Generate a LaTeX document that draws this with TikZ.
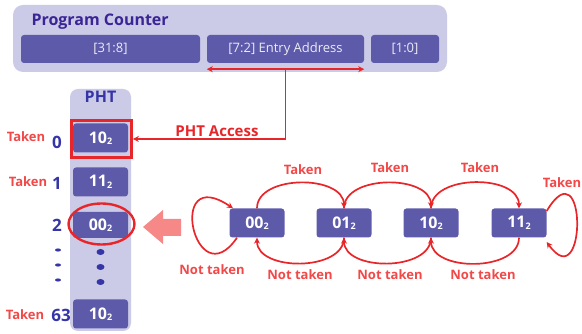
\documentclass[tikz,border=0pt]{standalone}
\usepackage{fontspec}
\setmainfont{Open Sans}
\usetikzlibrary{arrows.meta,shapes.geometric}
\definecolor{boxblue}{HTML}{5D5AAA}
\definecolor{panel}{HTML}{CBCBE7}
\definecolor{titlepurple}{HTML}{3A2496}
\definecolor{idxblue}{HTML}{3535A8}
\definecolor{arcred}{HTML}{E8262A}
\definecolor{lblred}{HTML}{F24848}
\definecolor{bigarrow}{HTML}{F68888}
\newcommand\basetwo[1]{#1\raisebox{-1.5pt}{\fontsize{9}{9}\selectfont 2}}
\begin{document}
\begin{tikzpicture}[x=1pt,y=1pt,
    reg/.style={fill=boxblue,rounded corners=3pt,text=white!88!boxblue,font=\fontsize{13}{13}\selectfont,minimum height=28pt,inner sep=0pt},
    entry/.style={fill=boxblue,rounded corners=3pt,text=white,font=\bfseries\fontsize{16}{16}\selectfont,minimum width=55pt,minimum height=29pt,inner sep=0pt},
    lbl/.style={text=lblred,font=\bfseries\fontsize{13}{13}\selectfont,inner sep=1pt},
    idx/.style={text=idxblue,font=\bfseries\fontsize{17}{17}\selectfont,inner sep=0pt},
    arc/.style={arcred,line width=1.7pt,-{Stealth[length=6pt,width=6pt]}}]
  \useasboundingbox (0,0) rectangle (582,334);
  % program counter
  \fill[panel,rounded corners=10pt] (13,262) rectangle (447,329);
  \node[anchor=west,text=titlepurple,font=\bfseries\fontsize{16}{16}\selectfont] (title) at (28,312) {Program Counter};
  \node[reg,minimum width=179pt] (hi) at (110.5,285) {[31:8]};
  \node[reg,minimum width=157pt] (mid) at (285.5,285) {[7:2] Entry Address};
  \node[reg,minimum width=68pt] (lo) at (405,285) {[1:0]};
  % PHT column
  \fill[panel,rounded corners=8pt] (70,3) rectangle (131,245);
  \node[text=idxblue,font=\bfseries\fontsize{16}{16}\selectfont] (pht) at (100.5,237) {PHT};
  \node[entry] (e0) at (100.5,196) {\basetwo{10}};
  \node[entry] (e1) at (100.5,152) {\basetwo{11}};
  \node[entry,minimum height=26pt] (e2) at (100.5,109) {\basetwo{00}};
  \node[entry] (e3) at (100.5,20) {\basetwo{10}};
  \node[draw=arcred,line width=2.6pt,minimum width=60pt,minimum height=37pt] (hit) at (101.5,195) {};
  \node[ellipse,draw=arcred,line width=2.4pt,minimum width=66pt,minimum height=41pt] (ring) at (101.5,110) {};
  \foreach \y in {82,67,52} {
    \fill[idxblue] (100.5,\y) ellipse (4pt and 3pt);
    \fill[idxblue] (58,\y+2) ellipse (3pt and 1.6pt);
  }
  \node[idx] (i0) at (57,192) {0};
  \node[idx] (i1) at (57,151) {1};
  \node[idx] (i2) at (57,109) {2};
  \node[idx] (i3) at (61,19) {63};
  \node[lbl] (t0) at (26,197) {Taken};
  \node[lbl] (t1) at (28,152) {Taken};
  \node[lbl] (t3) at (25,19) {Taken};
  % index from the address
  \coordinate (split) at ([yshift=-6pt]mid.south);
  \draw[arcred,line width=1.7pt,{Stealth[length=6pt,width=6pt]}-{Stealth[length=6pt,width=6pt]}]
    ([yshift=-6pt]mid.south west) -- ([yshift=-6pt]mid.south east);
  \draw[arc] (split) |- (hit.east);
  \node[text=arcred,font=\bfseries\fontsize{15}{15}\selectfont] (access) at (217,203) {PHT Access};
  % big arrow
  \fill[bigarrow] (143,107) -- (163,124) -- (163,115) -- (181,115) -- (181,98) -- (163,98) -- (163,90) -- cycle;
  % 2-bit counter
  \node[entry] (s0) at (257,111) {\basetwo{00}};
  \node[entry] (s1) at (344,111) {\basetwo{01}};
  \node[entry] (s2) at (431,111) {\basetwo{10}};
  \node[entry] (s3) at (519,111) {\basetwo{11}};
  \foreach \a/\b in {s0/s1,s1/s2,s2/s3} {
    \draw[arc] (\a.north) to[out=90,in=90] (\b.north);
    \draw[arc] (\b.south) to[out=-90,in=-90] (\a.south);
  }
  \draw[arc] ([yshift=12pt]s3.east) .. controls (587,190) and (587,36) .. ([yshift=-19pt]s3.east);
  \draw[arc] ([xshift=-20pt]s0.south) .. controls (195,35) and (165,172) .. ([xshift=-24pt]s0.north);
  \node[lbl] (tk01) at (303,164) {Taken};
  \node[lbl] (tk12) at (390,166) {Taken};
  \node[lbl] (tk23) at (480,166) {Taken};
  \node[lbl] (tk33) at (562,151) {Taken};
  \node[lbl] (nt10) at (300,59) {Not taken};
  \node[lbl] (nt21) at (390,59) {Not taken};
  \node[lbl] (nt32) at (483,59) {Not taken};
  \node[lbl] (nt00) at (212,64) {Not taken};
\end{tikzpicture}
\end{document}
